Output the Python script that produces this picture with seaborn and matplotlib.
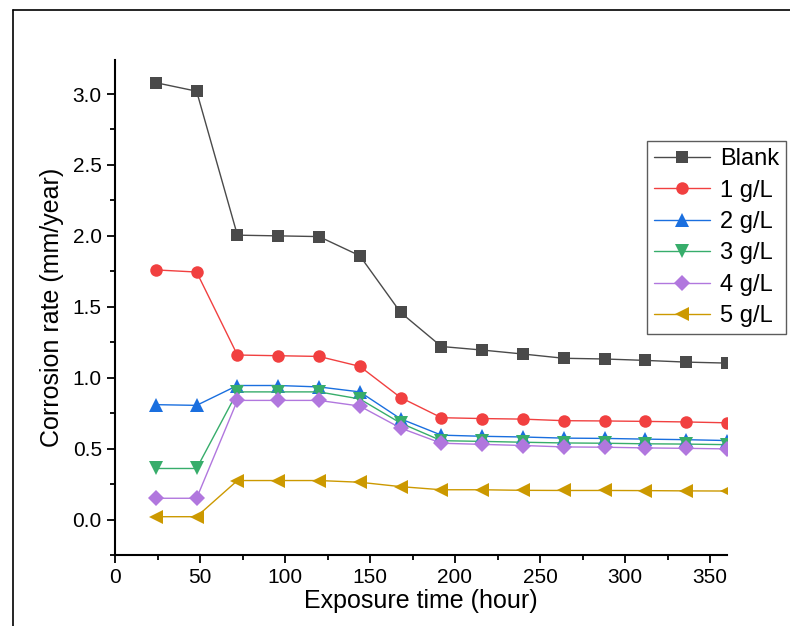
import matplotlib
matplotlib.use("Agg")
import matplotlib.pyplot as plt
from matplotlib.lines import Line2D
from matplotlib.ticker import MultipleLocator
import pandas as pd
import seaborn as sns

sns.set_theme(style="ticks")
plt.rcParams['font.family'] = ['Liberation Sans', 'DejaVu Sans']
plt.rcParams['text.color'] = 'black'
plt.rcParams['axes.labelcolor'] = 'black'

# exposure time (hour)
hours = [24, 48, 72, 96, 120, 144, 168, 192, 216, 240, 264, 288, 312, 336, 360]

# corrosion rate (mm/year)
blank = [3.08, 3.02, 2.005, 2.0, 1.995, 1.86, 1.46, 1.22, 1.195, 1.167, 1.137, 1.132, 1.122, 1.11, 1.103]
c1 = [1.76, 1.745, 1.16, 1.155, 1.15, 1.08, 0.86, 0.718, 0.712, 0.708, 0.697, 0.695, 0.692, 0.688, 0.682]
c2 = [0.81, 0.805, 0.945, 0.945, 0.935, 0.90, 0.71, 0.595, 0.587, 0.582, 0.574, 0.572, 0.567, 0.563, 0.557]
c3 = [0.36, 0.36, 0.90, 0.90, 0.90, 0.85, 0.68, 0.556, 0.551, 0.545, 0.54, 0.538, 0.534, 0.532, 0.528]
c4 = [0.15, 0.15, 0.84, 0.84, 0.84, 0.80, 0.645, 0.538, 0.53, 0.522, 0.512, 0.51, 0.505, 0.502, 0.498]
c5 = [0.02, 0.02, 0.275, 0.275, 0.275, 0.263, 0.232, 0.21, 0.21, 0.206, 0.205, 0.205, 0.204, 0.202, 0.201]

labels = ['Blank', '1 g/L', '2 g/L', '3 g/L', '4 g/L', '5 g/L']
series = [blank, c1, c2, c3, c4, c5]
colors = ['#4a4a4a', '#f14040', '#1a6fdf', '#37ad6b', '#b177de', '#cc9900']
markers = ['s', 'o', '^', 'v', 'D', '<']
msizes = [8, 9, 9.5, 9.5, 8, 9.5]

rows = []
for lab, vals in zip(labels, series):
    for h, v in zip(hours, vals):
        rows.append({'time': h, 'rate': v, 'group': lab})
df = pd.DataFrame(rows)

fig = plt.figure(figsize=(7.9, 6.26), dpi=100)
ax = fig.add_axes([115 / 790, 1 - 555 / 626, 612 / 790, 495 / 626])

for lab, col, mk, ms in zip(labels, colors, markers, msizes):
    sub = df[df['group'] == lab]
    sns.lineplot(data=sub, x='time', y='rate', ax=ax, color=col, linewidth=1.0,
                 marker=mk, markersize=ms, markeredgewidth=0, label=lab)

ax.set_xlim(0, 360)
ax.set_ylim(-0.25, 3.24)
ax.xaxis.set_major_locator(MultipleLocator(50))
ax.xaxis.set_minor_locator(MultipleLocator(25))
ax.yaxis.set_major_locator(MultipleLocator(0.5))
ax.yaxis.set_minor_locator(MultipleLocator(0.25))
ax.yaxis.set_major_formatter(matplotlib.ticker.FormatStrFormatter('%.1f'))
ax.tick_params(which='major', direction='out', length=6, width=1.3, labelsize=15,
               color='black', labelcolor='black')
ax.tick_params(which='minor', direction='out', length=3.5, width=1.3, color='black')

for s in ['top', 'right']:
    ax.spines[s].set_visible(False)
for s in ['left', 'bottom']:
    ax.spines[s].set_linewidth(1.5)
    ax.spines[s].set_color('black')

ax.set_xlabel('Exposure time (hour)', fontsize=18, labelpad=1)
ax.set_ylabel('Corrosion rate (mm/year)', fontsize=18, labelpad=6)

handles = [Line2D([], [], color=c, marker=m, markersize=ms, markeredgewidth=0, linewidth=1.0)
           for c, m, ms in zip(colors, markers, msizes)]
leg = ax.legend(handles, labels, loc='upper right', bbox_to_anchor=(786 / 790, 1 - 141 / 626),
                bbox_transform=fig.transFigure, fontsize=17, frameon=True, fancybox=False,
                handlelength=2.4, handletextpad=0.4, borderpad=0.3, labelspacing=0.4,
                borderaxespad=0)
leg.get_frame().set_edgecolor('#333333')
leg.get_frame().set_linewidth(1.0)

# outer frame lines (top and left)
fig.add_artist(Line2D([13 / 790, 1], [1 - 10 / 626, 1 - 10 / 626], transform=fig.transFigure,
                      color='black', linewidth=1.2))
fig.add_artist(Line2D([13 / 790, 13 / 790], [0, 1 - 10 / 626], transform=fig.transFigure,
                      color='black', linewidth=1.2))

fig.savefig('out.png', dpi=100)
